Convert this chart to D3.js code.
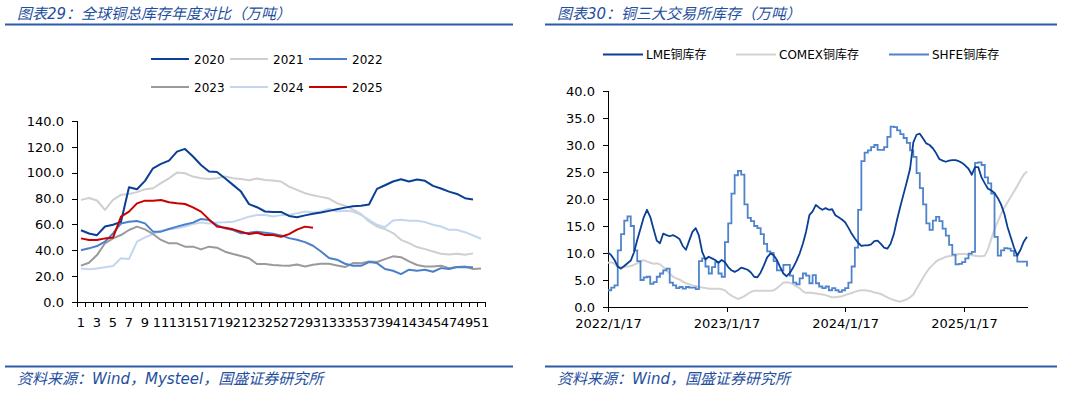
<!DOCTYPE html>
<html><head><meta charset="utf-8">
<script src="https://cdn.jsdelivr.net/npm/d3@7"></script>
<style>
body{margin:0;background:#fff}
svg{display:block}
text{font-family:"DejaVu Sans","Noto Sans CJK SC",sans-serif}
</style>
</head><body>
<svg id="c" width="1065" height="393"></svg>
<script>
// ---------- Left chart data (万吨, weekly) ----------
const weeks = d3.range(1, 52);
const weekTickLabels = weeks.filter(w => w % 2 === 1);
const yearNames = ["2020", "2021", "2022", "2023", "2024", "2025"];
const y2020 = [55.5,53,51.7,58.4,59.8,62,88.8,87.2,93.7,103.4,106.8,109.4,116.3,118.4,112.5,106,100.9,100.6,95.7,90.6,85.4,75.7,73.3,70,69.7,69.7,66.6,65.6,67,68.2,69.2,70.5,71.8,73,74.1,74.4,75.4,87.5,90.3,93.2,95,93.2,94.7,93.7,89.8,87.8,85.4,83.6,80.3,79.3];
const y2021 = [79,80.5,78.5,71.3,79,82.9,83.6,85,87.2,88,91.9,95.7,100.1,99.6,97,95.7,95.2,95.7,97,95.7,95.2,94.2,95.5,94.4,94,93.2,89.3,86.7,84.1,82.6,81.3,80,76.4,74.5,71.5,68,62.3,58.4,56.4,53.3,48.1,45.5,42.5,40.9,39.1,37.3,36.8,37.3,36.5,37.6];
const y2022 = [40,41.5,43.3,46.7,53,60.8,62,62.6,60.8,54.4,54.4,56.5,58.3,60,61.4,64.2,63.4,59.5,57,55.7,53.1,53.6,54.4,53.6,52.8,51.5,49.4,48.1,46.3,43.5,39.1,34,32.7,29.6,28,28,30.9,30.1,25.5,24.2,21.6,25,24.2,25,23.4,26.2,25.5,27,26.8,26.8];
const y2023 = [28.1,30.4,36.3,45.4,49.2,51.8,55.7,58.3,56.2,52.6,48,45.4,45.4,42.8,42.8,40.7,42.8,42,38.9,37.1,35.6,33.8,29.4,29.4,28.6,28.2,28,29,27.5,28.8,29.6,29.6,28.3,27,30.1,29.9,31.4,30.9,33.2,35.3,34.7,31.4,28.6,27.5,27.5,28,26.2,27,27.5,25.5,26];
const y2024 = [26,25.3,26,26.8,27.8,33.8,33.3,46.7,50,52.6,55.2,56.2,57,58.3,60.3,61.4,60.8,61.4,61.6,62.1,63.9,66,67.3,67.3,66.1,67.2,67.4,68.7,70,69.2,70,72,70,70.5,70,67.4,63.6,59.7,57.9,63,63.6,62.8,62.8,61.8,59.7,58.4,55.8,55.8,54,51.5,48.9];
const y2025 = [49.2,48,48,49.2,49.8,66,69.9,76.3,78.4,78.4,78.9,77.1,76.3,75.8,73.2,69.9,63.9,58.3,57.5,56.2,54.4,52.6,53.6,51.8,51.8,50.5,52.5,56,58.3,57.5];
const leftYTicks = [0,20,40,60,80,100,120,140];

// ---------- Right chart data (万吨, every 10 days from 2022/1/17) ----------
const invStart = "2022/1/17";
const invStepDays = 10;
const invSeriesNames = ["LME铜库存", "COMEX铜库存", "SHFE铜库存"];
const lme = [10.1,9.6,8.7,7.5,7.1,7.6,8.1,8.6,10.1,12.4,
 14.5,16.6,18,16.7,14.5,12.3,11.8,13.6,13.3,13.1,
 13.3,13,12.6,11.3,10.6,12.3,13.9,14.6,13.2,10.2,
 8.8,9.3,9,8.7,8.2,8.7,8.3,7.4,6.8,6.5,
 6.8,7.3,7.1,6.9,6.4,5.6,5.5,6.4,7.7,9.2,
 9.9,9.6,8.7,7.4,6.2,5.7,6.3,7.3,8.5,9.9,
 11.7,14,17,17.7,18.9,18.4,18,18.3,18,18.1,
 17,16.6,16.2,15.7,14.7,13.6,12.7,11.9,11.3,11.4,
 11.4,11.6,12.2,12.3,11.7,11,10.8,11.7,13.5,16.2,
 18.6,20.9,23.2,25.6,30.5,31.9,32.1,31.2,30.3,30,
 29.4,28.5,27.4,27.1,26.9,27.1,27.2,27.2,27,26.7,
 26.2,25.6,24.5,25.9,25.9,24,22.9,21.9,21.6,21.1,
 20.2,19,17.3,14.8,12.9,11,9.5,10.6,12.1,13];
const comex = [8.2,8.3,8.0,7.4,7.4,7.4,7.5,7.6,7.8,8.1,
 8.4,8.7,8.4,8.2,8,8.1,7.9,7.4,6.8,6.2,
 5.6,5.3,5.1,4.7,4.4,4.2,4,3.9,3.7,3.6,
 3.5,3.4,3.4,3.4,3.4,3.3,3.1,2.5,2.1,1.8,
 1.5,1.7,2,2.4,2.8,3,3,3,3,3,
 3,3.1,3.5,4,4.5,4.6,4.5,4.2,3.8,3.5,
 2.9,2.6,2.7,2.6,2.5,2.4,2.3,2.2,2,1.8,
 1.8,1.9,2,2.2,2.4,2.6,2.8,3,3.1,3.1,
 3,2.9,2.7,2.6,2.4,2.1,1.8,1.5,1.3,1.1,
 1,1.2,1.4,1.8,2.3,3.4,4.4,5.4,6.4,7.2,
 7.8,8.4,8.8,9,9.3,9.4,9.5,9.6,9.8,9.8,
 9.8,9.7,9.6,9.5,9.4,9.4,9.5,10.7,12.6,14.4,
 15.8,17.2,18.4,19.4,20.4,21.4,22.4,23.5,24.5,25.1];
const shfe = [3.1,3.6,4,10.5,13.5,16,16.8,15,10.5,8.5,
 5,5.5,5.6,4.3,4.6,5.6,6.2,6.8,7.1,4.5,
 4,3.5,3.7,3.4,3.7,3.6,3.6,3.3,8.5,9,
 7.5,6.2,7.4,8.3,6.2,5.6,12,15.5,21,24.4,
 25.2,24.5,19,16.5,15.9,15,14.6,13.5,11.7,10.3,
 10,8.5,6.8,6.8,7.8,7.8,5.8,4.5,4.2,5.3,
 6.2,5.8,4.4,5.9,4.4,3.8,3.5,3.8,3.1,3.5,
 3.1,2.8,3.1,3.5,4.5,7.5,11,18,27,28.6,
 29,29.6,30,29.1,29.1,29.6,31.5,33.4,33.3,32.7,
 32,31.3,30.4,29,27.8,24.8,22,19,15.5,14.3,
 16,16.7,15.9,14.5,13.2,11.5,9.7,7.9,8,8.3,
 9,9.9,10.2,26.7,26.8,26.3,24,22.9,21,13,
 9.5,10.5,10.9,10.8,10.4,9.5,8.4,8.4,8.4,7.5];
const rightYTicks = [0,5,10,15,20,25,30,35,40];
const rightXTickLabels = ["2022/1/17","2023/1/17","2024/1/17","2025/1/17"];

// ---------- Styles ----------
const leftColors = ["#0b3f95","#cfcfcf","#4a7fcb","#9a9a9a","#c3d6ef","#c80000"];
const rightColors = ["#0b3f95","#d2d2d2","#4f83cc"];
const headColor = "#1f4f9e";
const ruleColor = "#2c5aa8";

const svg = d3.select("#c");
svg.append("rect").attr("width",1065).attr("height",393).attr("fill","#fff");

// headers / footers
function frame(x0, x1, title, source){
  svg.append("text").attr("x", x0+12).attr("y", 19).attr("fill", headColor)
    .attr("font-size", 15).attr("font-style","italic").text(title);
  svg.append("line").attr("x1",x0).attr("x2",x1).attr("y1",24.5).attr("y2",24.5)
    .attr("stroke",ruleColor).attr("stroke-width",2);
  svg.append("line").attr("x1",x0).attr("x2",x1).attr("y1",366.5).attr("y2",366.5)
    .attr("stroke",ruleColor).attr("stroke-width",2);
  svg.append("text").attr("x", x0+12).attr("y", 384).attr("fill", headColor)
    .attr("font-size", 15).attr("font-style","italic").text(source);
}
frame(5, 513, "图表29：全球铜总库存年度对比（万吨）", "资料来源：Wind，Mysteel，国盛证券研究所");
frame(545, 1057, "图表30：铜三大交易所库存（万吨）", "资料来源：Wind，国盛证券研究所");

function styleAxis(g){
  g.selectAll("path,line").attr("stroke","#000").attr("stroke-width",1).attr("shape-rendering","crispEdges");
  g.selectAll("text").attr("fill","#000").attr("font-size",13);
}

// ---------- Left chart ----------
{
  const x = d3.scaleBand().domain(weeks).range([77, 485]);
  const y = d3.scaleLinear().domain([0, 140]).range([302, 121]);
  const cx = w => x(w) + x.bandwidth()/2;

  const gy = svg.append("g").attr("transform","translate(77,0)")
    .call(d3.axisLeft(y).tickValues(leftYTicks).tickFormat(d3.format(".1f")).tickSize(5).tickPadding(8));
  styleAxis(gy);

  // x axis line + boundary ticks
  const gx = svg.append("g").attr("transform","translate(0,302)");
  gx.append("line").attr("x1", x.range()[0]).attr("x2", x.range()[1]).attr("y1",0).attr("y2",0);
  const edges = weeks.map(w => x(w)).concat([x.range()[1]]);
  gx.selectAll("line.t").data(edges).enter().append("line").attr("class","t")
    .attr("x1", d => d).attr("x2", d => d).attr("y1", 0).attr("y2", 5);
  gx.selectAll("text").data(weekTickLabels).enter().append("text")
    .attr("x", d => cx(d)).attr("y", 25).attr("text-anchor","middle").text(d => d);
  styleAxis(gx);

  const series = [y2020, y2021, y2022, y2023, y2024, y2025];
  const line = d3.line().x((d,i) => cx(weeks[i])).y(d => y(d));
  const order = [1,4,3,2,0,5];
  order.forEach(k => {
    svg.append("path").datum(series[k]).attr("d", line).attr("fill","none")
      .attr("stroke", leftColors[k]).attr("stroke-width", 2).attr("stroke-linejoin","round");
  });

  // legend
  yearNames.forEach((name, k) => {
    const col = k % 3, row = Math.floor(k / 3);
    const lx = 151 + col * 79, ly = 59 + row * 28;
    svg.append("line").attr("x1", lx).attr("x2", lx + 38).attr("y1", ly).attr("y2", ly)
      .attr("stroke", leftColors[k]).attr("stroke-width", 2);
    svg.append("text").attr("x", lx + 43).attr("y", ly + 4.5).attr("font-size", 12).attr("fill","#000").text(name);
  });
}

// ---------- Right chart ----------
{
  const parse = d3.timeParse("%Y/%m/%d");
  const start = parse(invStart);
  const dates = lme.map((_, i) => d3.timeDay.offset(start, i * invStepDays));
  const x = d3.scaleTime().domain([start, dates[dates.length-1]]).range([608, 1027]);
  const y = d3.scaleLinear().domain([0, 40]).range([307, 91]);

  const gy = svg.append("g").attr("transform","translate(608,0)")
    .call(d3.axisLeft(y).tickValues(rightYTicks).tickFormat(d3.format(".1f")).tickSize(5).tickPadding(8));
  styleAxis(gy);
  const fmt = d => `${d.getFullYear()}/${d.getMonth()+1}/${d.getDate()}`;
  const gx = svg.append("g").attr("transform","translate(0,307)")
    .call(d3.axisBottom(x).tickValues(rightXTickLabels.map(parse)).tickFormat(fmt).tickSize(5).tickPadding(7).tickSizeOuter(0));
  styleAxis(gx);

  const mk = curve => d3.line().x((d,i) => x(dates[i])).y(d => y(d)).curve(curve);
  svg.append("path").datum(comex).attr("d", mk(d3.curveLinear)).attr("fill","none")
    .attr("stroke", rightColors[1]).attr("stroke-width", 2);
  svg.append("path").datum(shfe).attr("d", mk(d3.curveStepAfter)).attr("fill","none")
    .attr("stroke", rightColors[2]).attr("stroke-width", 1.8);
  svg.append("path").datum(lme).attr("d", mk(d3.curveLinear)).attr("fill","none")
    .attr("stroke", rightColors[0]).attr("stroke-width", 1.8).attr("stroke-linejoin","round");

  const legX = [603, 736, 889];
  invSeriesNames.forEach((name, k) => {
    const lx = legX[k], ly = 54.5;
    svg.append("line").attr("x1", lx).attr("x2", lx + 40).attr("y1", ly).attr("y2", ly)
      .attr("stroke", rightColors[k]).attr("stroke-width", 2);
    svg.append("text").attr("x", lx + 43).attr("y", ly + 4.5).attr("font-size", 12).attr("fill","#000").text(name);
  });
}
</script>
</body></html>
